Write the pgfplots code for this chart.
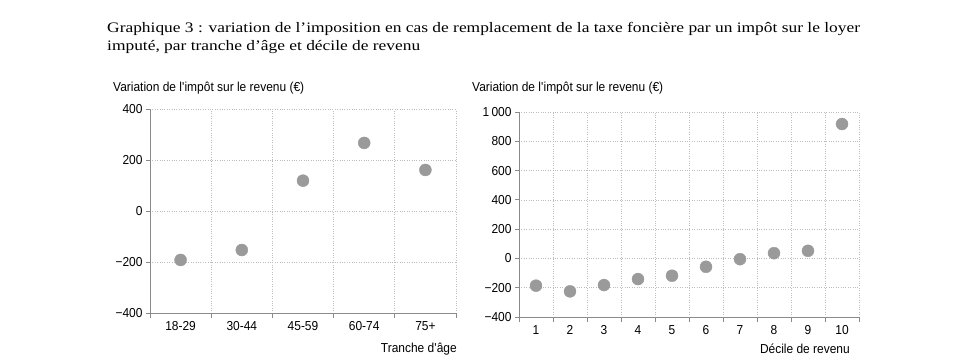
\documentclass[border=0pt]{standalone}
\usepackage{fontspec}
\setmainfont[FakeStretch=0.92]{Liberation Sans}
\newfontfamily\titlefont[FakeStretch=1.2]{Liberation Serif}
\usepackage{pgfplots}
\pgfplotsset{compat=1.18}
\definecolor{dotgray}{HTML}{9A9A9A}
\definecolor{axgray}{HTML}{8A8A8A}
\definecolor{gridgray}{HTML}{BDBDBD}
\newcommand{\lab}{\fontsize{13}{15}\selectfont}
\pgfplotsset{
  panel/.style={
    scale only axis,
    axis x line*=bottom, axis y line*=left,
    axis line style={-, axgray, line width=0.8pt},
    tick align=outside,
    major tick length=4pt, minor tick length=5pt,
    ymajorgrids, xminorgrids,
    grid style={dotted, gridgray, line width=0.7pt},
    major x tick style={draw=none},
    minor x tick style={axgray, line width=0.8pt},
    ytick style={axgray, line width=0.8pt},
    /pgf/number format/assume math mode=true,
    tick label style={font=\lab, text=black},
    xticklabel style={yshift=-1pt},
    clip=false,
  }
}
\begin{document}
\begin{tikzpicture}[x=1pt,y=1pt]
\useasboundingbox (0,0) rectangle (968,361);
\node[anchor=base west, inner sep=0, font=\titlefont\fontsize{14.5}{18}\selectfont] at (107,328) {Graphique 3 : variation de l’imposition en cas de remplacement de la taxe foncière par un impôt sur le loyer};
\node[anchor=base west, inner sep=0, font=\titlefont\fontsize{14.5}{18}\selectfont] at (107,310) {imputé, par tranche d’âge et décile de revenu};

\begin{axis}[panel,
  at={(150pt,48pt)}, anchor=south west,
  width=306pt, height=204pt,
  xmin=-0.5, xmax=4.5, ymin=-400, ymax=400,
  xtick={0,1,2,3,4}, xticklabels={18-29,30-44,45-59,60-74,75+},
  minor xtick={-0.5,0.5,1.5,2.5,3.5,4.5},
  ytick={-400,-200,0,200,400},
  yticklabels={−400,−200,0,200,400},
]
\addplot[only marks, mark=*, mark size=6pt, color=dotgray] coordinates {
(0,-192) (1,-153) (2,119) (3,267) (4,161)};
\end{axis}
\node[anchor=west, inner sep=0, font=\lab] at (113,273) {Variation de l\textquotesingle impôt sur le revenu (€)};
\node[anchor=east, inner sep=0, font=\lab] at (457,12) {Tranche d\textquotesingle âge};

\begin{axis}[panel,
  at={(519pt,44pt)}, anchor=south west,
  width=340pt, height=205pt,
  xmin=0.5, xmax=10.5, ymin=-400, ymax=1000,
  xtick={1,...,10},
  xticklabels={1,2,3,4,5,6,7,8,9,10},
  minor xtick={0.5,1.5,...,10.5},
  ytick={-400,-200,0,200,400,600,800,1000},
  yticklabels={−400,−200,0,200,400,600,800,1\,000},
]
\addplot[only marks, mark=*, mark size=6pt, color=dotgray] coordinates {
(1,-186) (2,-225) (3,-182) (4,-141) (5,-118) (6,-57) (7,-5) (8,36) (9,52) (10,918)};
\end{axis}
\node[anchor=west, inner sep=0, font=\lab] at (472,273) {Variation de l\textquotesingle impôt sur le revenu (€)};
\node[anchor=east, inner sep=0, font=\lab] at (850,12) {Décile de revenu};
\end{tikzpicture}
\end{document}
